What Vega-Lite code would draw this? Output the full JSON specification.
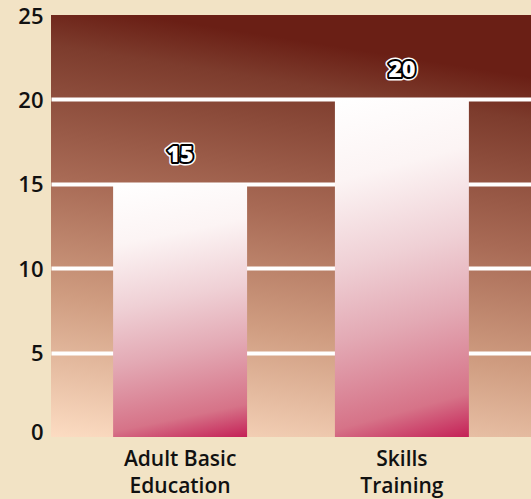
{
  "$schema": "https://vega.github.io/schema/vega-lite/v6.json",
  "width": 480,
  "height": 422,
  "autosize": {"type": "none"},
  "padding": {"left": 51, "top": 15, "right": 0, "bottom": 62},
  "background": "#f2e3c5",
  "data": {"values": [
    {"program": "Adult Basic Education", "value": 15},
    {"program": "Skills Training", "value": 20}
  ]},
  "config": {
    "view": {
      "stroke": null,
      "fill": {
        "gradient": "linear", "x1": 0, "y1": 1, "x2": 0.18, "y2": 0,
        "stops": [
          {"offset": 0, "color": "#fcdcc2"},
          {"offset": 0.33, "color": "#cf9c80"},
          {"offset": 0.6, "color": "#a86a55"},
          {"offset": 0.9, "color": "#7d3c2d"},
          {"offset": 1, "color": "#6a1f15"}
        ]
      }
    },
    "font": "Open Sans"
  },
  "encoding": {
    "x": {
      "field": "program", "type": "nominal", "sort": null,
      "scale": {"paddingInner": 0.396, "paddingOuter": 0.28},
      "axis": {
        "title": null, "labelAngle": 0, "domain": false, "ticks": false,
        "labelFontSize": 21, "labelFont": "Open Sans", "labelFontWeight": 600,
        "labelColor": "#111111", "labelPadding": 11, "labelLineHeight": 27,
        "labelExpr": "datum.value == 'Adult Basic Education' ? ['Adult Basic', 'Education'] : ['Skills', 'Training']"
      }
    },
    "y": {
      "field": "value", "type": "quantitative",
      "scale": {"domain": [0, 25], "nice": false},
      "axis": {
        "title": null, "values": [0, 5, 10, 15, 20, 25], "domain": false, "ticks": false,
        "labelFontSize": 22, "labelFont": "Open Sans", "labelFontWeight": 600,
        "labelColor": "#111111", "labelPadding": 8,
        "labelOffset": {"condition": {"test": "datum.value == 0", "value": -5}, "value": 1},
        "gridColor": "#ffffff", "gridWidth": 4,
        "gridOpacity": {"condition": {"test": "datum.value == 0 || datum.value == 25", "value": 0}, "value": 1}
      }
    }
  },
  "layer": [
    {
      "mark": {
        "type": "bar",
        "color": {
          "gradient": "linear", "x1": 0, "y1": 0, "x2": 0.12, "y2": 1.1,
          "stops": [
            {"offset": 0, "color": "#ffffff"},
            {"offset": 0.22, "color": "#fcf4f4"},
            {"offset": 0.45, "color": "#efd0d5"},
            {"offset": 0.65, "color": "#e3a9b4"},
            {"offset": 0.88, "color": "#d67388"},
            {"offset": 1, "color": "#c41e55"}
          ]
        }
      }
    },
    {
      "mark": {"type": "text", "fontSize": 23, "fontWeight": 800, "font": "Open Sans", "baseline": "middle", "dy": -29, "stroke": "#ffffff", "strokeWidth": 7, "fill": "#ffffff", "strokeJoin": "round"},
      "encoding": {"text": {"field": "value"}}
    },
    {
      "mark": {"type": "text", "fontSize": 23, "fontWeight": 800, "font": "Open Sans", "baseline": "middle", "dy": -29, "stroke": "#000000", "strokeWidth": 4, "fill": "#000000", "strokeJoin": "round"},
      "encoding": {"text": {"field": "value"}}
    },
    {
      "mark": {"type": "text", "fontSize": 23, "fontWeight": 800, "font": "Open Sans", "baseline": "middle", "dy": -29, "fill": "#ffffff"},
      "encoding": {"text": {"field": "value"}}
    }
  ]
}
